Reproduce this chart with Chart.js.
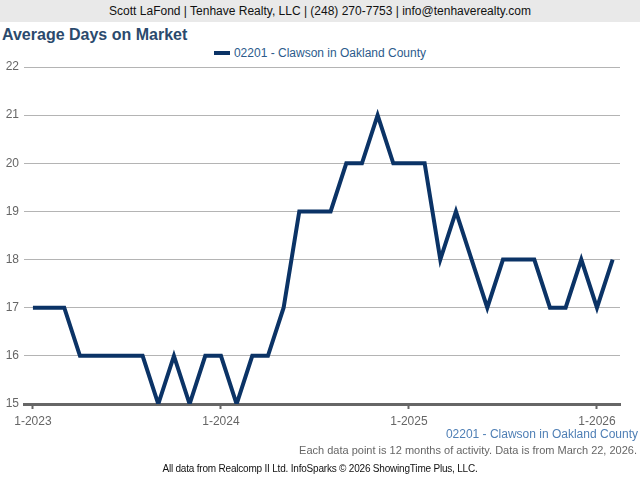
<!DOCTYPE html>
<html>
<head>
<meta charset="utf-8">
<script src="https://cdn.jsdelivr.net/npm/chart.js@4"></script>
<style>
  body { margin: 0; width: 640px; height: 480px; position: relative; overflow: hidden; background: #fff; font-family: "Liberation Sans", Arial, sans-serif; }
  #header { position: absolute; left: 0; top: 0; width: 640px; height: 22px; background: #e9e9e9; text-align: center; font-size: 12px; line-height: 22px; color: #111; }
  #title { position: absolute; left: 2px; top: 26px; font-size: 16px; font-weight: bold; color: #2b4a6d; }
  #legend { position: absolute; left: 0; width: 640px; top: 46px; text-align: center; font-size: 12px; color: #2c5b8c; }
  #legend span.sw { display: inline-block; width: 16px; height: 4px; background: #0b3366; vertical-align: middle; margin-right: 4px; position: relative; top: -1px; }
  #chart-wrap { position: absolute; left: 0; top: 0; width: 640px; height: 480px; }
  #series { position: absolute; right: 2px; top: 427px; font-size: 12px; color: #4f7fb5; }
  #note { position: absolute; right: 3px; top: 444px; font-size: 11px; color: #666; }
  #credit { position: absolute; left: 0; width: 640px; top: 463px; text-align: center; font-size: 10px; color: #111; letter-spacing: -0.2px; }
</style>
</head>
<body>
<div id="header">Scott LaFond | Tenhave Realty, LLC | (248) 270-7753 | info@tenhaverealty.com</div>
<div id="title">Average Days on Market</div>
<div id="legend"><span class="sw"></span>02201 - Clawson in Oakland County</div>
<div id="chart-wrap"><canvas id="chart" width="640" height="480"></canvas></div>
<div id="series">02201 - Clawson in Oakland County</div>
<div id="note">Each data point is 12 months of activity. Data is from March 22, 2026.</div>
<div id="credit">All data from Realcomp II Ltd. InfoSparks © 2026 ShowingTime Plus, LLC.</div>

<script>
// months shown on the chart (12-month rolling values)
const months = [
    '1-2023', '2-2023', '3-2023', '4-2023', '5-2023', '6-2023', '7-2023', '8-2023', '9-2023', '10-2023', '11-2023', '12-2023',
    '1-2024', '2-2024', '3-2024', '4-2024', '5-2024', '6-2024', '7-2024', '8-2024', '9-2024', '10-2024', '11-2024', '12-2024',
    '1-2025', '2-2025', '3-2025', '4-2025', '5-2025', '6-2025', '7-2025', '8-2025', '9-2025', '10-2025', '11-2025', '12-2025',
    '1-2026', '2-2026'
];

// Average days on market, 02201 - Clawson
const clawson = [
    17, 17, 17, 16, 16, 16, 16, 16, 15, 16, 15, 16,
    16, 15, 16, 16, 17, 19, 19, 19, 20, 20, 21, 20,
    20, 20, 18, 19, 18, 17, 18, 18, 18, 17, 17, 18,
    17, 18
];

// which months get a label on the bottom axis
const tickMonths = ['1-2023', '1-2024', '1-2025', '1-2026'];
const yTicks = [15, 16, 17, 18, 19, 20, 21, 22];

const points = clawson.map((v, i) => ({ x: i, y: v }));

const ctx = document.getElementById('chart').getContext('2d');
new Chart(ctx, {
    type: 'line',
    data: {
        datasets: [{
            label: '02201 - Clawson in Oakland County',
            data: points,
            borderColor: '#0b3366',
            borderWidth: 4,
            pointRadius: 0,
            tension: 0,
            borderJoinStyle: 'miter'
        }]
    },
    options: {
        responsive: false,
        animation: false,
        layout: { padding: { top: 67, right: 20, left: 0, bottom: 0 } },
        plugins: {
            legend: { display: false },
            tooltip: { enabled: false }
        },
        scales: {
            x: {
                type: 'linear',
                min: -0.57,
                max: 37.47,
                afterBuildTicks: (scale) => {
                    scale.ticks = tickMonths.map(m => ({ value: months.indexOf(m) }));
                },
                afterFit: (scale) => { scale.height = 76; },
                ticks: {
                    callback: (value) => months[value],
                    color: '#666',
                    font: { family: '"Liberation Sans", Arial, sans-serif', size: 12 },
                    padding: 5,
                    maxRotation: 0
                },
                grid: { drawOnChartArea: false, drawTicks: true, tickLength: 5, color: '#666', tickWidth: 2 },
                border: { color: '#666', width: 3 }
            },
            y: {
                min: 15,
                max: 22,
                afterBuildTicks: (scale) => {
                    scale.ticks = yTicks.map(v => ({ value: v }));
                },
                afterFit: (scale) => { scale.width = 24; },
                ticks: {
                    color: '#666',
                    font: { family: '"Liberation Sans", Arial, sans-serif', size: 12 },
                    padding: 5
                },
                grid: { color: '#b4b4b4', lineWidth: 1, drawTicks: false },
                border: { display: false }
            }
        }
    }
});
</script>
</body>
</html>
